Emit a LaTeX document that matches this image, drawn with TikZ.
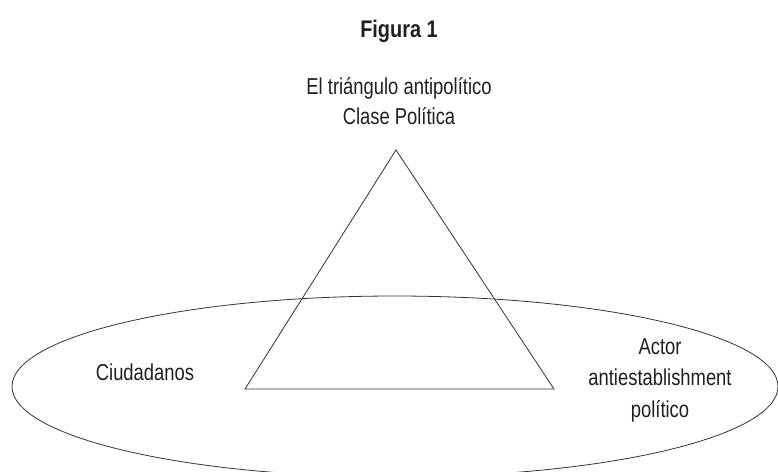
\documentclass[tikz,border=0pt]{standalone}
\usepackage{fontspec}
\setmainfont{Liberation Sans}[FakeStretch=0.8]
\newfontfamily\ttlfont{Liberation Sans}[FakeStretch=0.83]
\begin{document}
\begin{tikzpicture}[x=1pt,y=-1pt,
  lbl/.style={font=\fontsize{23}{31.5}\selectfont, text=black!88, align=center, inner sep=0pt, anchor=base},
  ttl/.style={font=\ttlfont\fontsize{24}{26}\selectfont\bfseries, text=black!88, inner sep=0pt, anchor=base},
  shape line/.style={draw=black!80, line width=0.8pt}]
\useasboundingbox (0,0) rectangle (778,471);
\clip (0,0) rectangle (778,471);
\node[ttl] (fig) at (399,37) {Figura 1};
\node[lbl] (tri) at (399,94) {El triángulo antipolítico};
\node[lbl] (clase) at (399,124) {Clase Política};
\coordinate (apex) at (396,150);
\coordinate (bl) at (245,389);
\coordinate (br) at (554,389);
\draw[shape line, line join=miter] (apex) -- (bl) -- (br) -- cycle;
\coordinate (ec) at (395,386.5);
\draw[shape line] (ec) ellipse [x radius=383, y radius=90.5];
\node[lbl] (ciud) at (145,380) {Ciudadanos};
\node[lbl] (actor) at (660,417) {Actor\\antiestablishment\\político};
\end{tikzpicture}
\end{document}
